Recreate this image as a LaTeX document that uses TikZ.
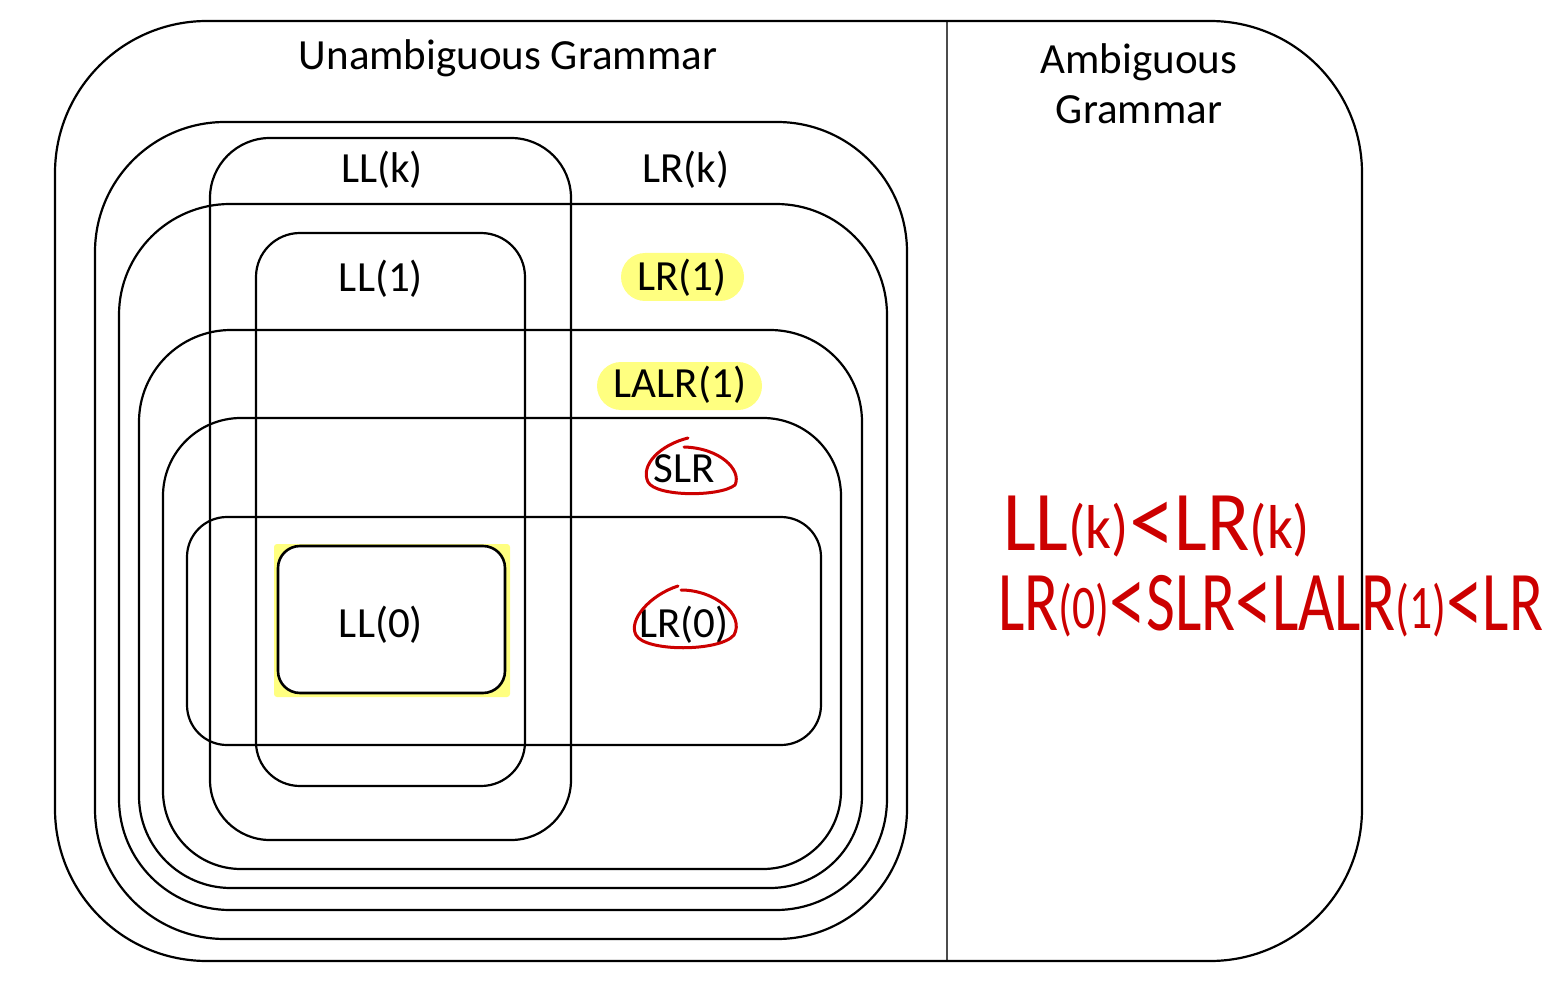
\documentclass[tikz,border=0pt]{standalone}
\usepackage{fontspec}
\setmainfont{Carlito}
\usepackage{graphicx}
\definecolor{hl}{RGB}{255,255,128}
\definecolor{ink}{RGB}{204,0,0}
\begin{document}
\begin{tikzpicture}[x=1pt,y=-1pt,
  setbox/.style={draw=black,line width=2.2pt},
  lbl/.style={font=\fontsize{43}{50}\selectfont,inner sep=0pt},
  pill/.style={fill=hl,rounded corners=24pt},
  inkline/.style={draw=ink,line width=3pt,line cap=round,line join=round},
  hand/.style={text=ink,inner sep=0pt,anchor=base west}]
\useasboundingbox (0,0) rectangle (1563,1000);
% highlights
\fill[pill] (621,253) rectangle (744,301);
\fill[pill] (597,362) rectangle (762,410);
\fill[hl,rounded corners=3pt] (274,544) rectangle (510,697);
% divider
\draw[line width=1.5pt,black!70] (947,21) coordinate (dt) -- (947,961) coordinate (db);
% boxes
\draw[setbox,rounded corners=152pt] (55,21) rectangle (1362,961);
\draw[setbox,rounded corners=130pt] (95,122) rectangle (907,939);
\draw[setbox,rounded corners=60pt] (210,138) rectangle (571,840);
\draw[setbox,rounded corners=111pt] (119,204) rectangle (887,910);
\draw[setbox,rounded corners=44pt] (256,233) rectangle (525,786);
\draw[setbox,rounded corners=92pt] (139,330) rectangle (862,888);
\draw[setbox,rounded corners=78pt] (163,418) rectangle (841,869);
\draw[setbox,rounded corners=40pt] (187,517) rectangle (821,745);
\draw[setbox,fill=white,line width=2.6pt,rounded corners=22pt] (278,546) rectangle (505,693);
% labels
\node[lbl] (unamb) at (508,58) {Unambiguous Grammar};
\node[lbl,align=center] (amb) at (1139,84) {Ambiguous\\ Grammar};
\node[lbl] (llk) at (382,170) {LL(k)};
\node[lbl] (lrk) at (686,170) {LR(k)};
\node[lbl] (ll1) at (381,279) {LL(1)};
\node[lbl] (lr1) at (682,278) {LR(1)};
\node[lbl] (lalr) at (680,385) {LALR(1)};
\node[lbl] (slr) at (684,469) {SLR};
\node[lbl] (ll0) at (381,625) {LL(0)};
\node[lbl] (lr0) at (684,625) {LR(0)};
% red circles
\draw[inkline] (688,438) .. controls (660,445) and (640,465) .. (648,482)
  .. controls (656,497) and (720,497) .. (735,485)
  .. controls (742,470) and (720,448) .. (684,447);
\draw[inkline] (678,586) .. controls (650,595) and (628,620) .. (636,635)
  .. controls (645,652) and (720,652) .. (734,635)
  .. controls (745,615) and (715,590) .. (681,590);
% handwritten notes
\newcommand{\bigL}[1]{{\fontsize{85}{85}\selectfont #1}}
\newcommand{\smP}[1]{{\fontsize{62}{62}\selectfont\raisebox{2pt}{#1}}}
\newcommand{\ltS}{{\fontsize{100}{100}\selectfont\raisebox{-4pt}{<}}}
\node[hand] (note1) at (1003,550) {\resizebox{307pt}{\height}{\bigL{LL}\smP{(k)}\ltS\bigL{LR}\smP{(k)}}};
\node[hand] (note2) at (998,630) {\resizebox{545pt}{\height}{\bigL{LR}\smP{(0)}\ltS\bigL{SLR}\ltS\bigL{LALR}\smP{(1)}\ltS\bigL{LR}}};
\end{tikzpicture}
\end{document}
